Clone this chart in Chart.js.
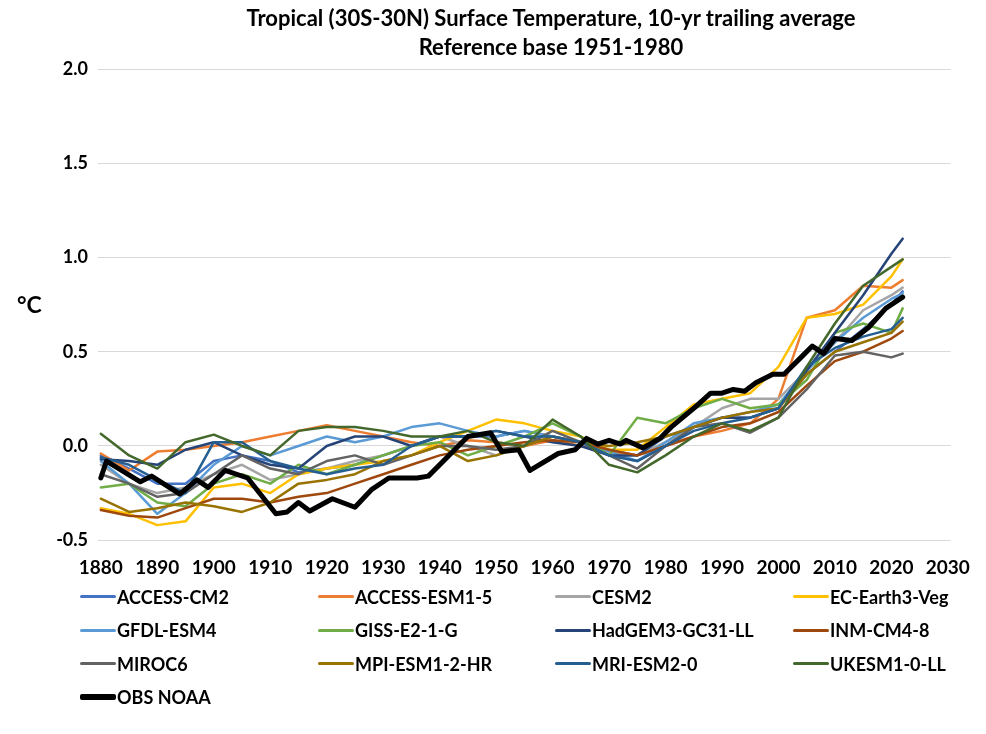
<!DOCTYPE html>
<html>
<head>
<meta charset="utf-8">
<script src="https://cdn.jsdelivr.net/npm/chart.js@4.4.1/dist/chart.umd.min.js"></script>
<style>
    body { margin:0; background:#fff; font-family:Lato, "Open Sans", sans-serif; font-weight:bold; color:#000; }
    #wrap { position:relative; width:986px; height:734px; overflow:hidden; }
    #title { position:absolute; left:116px; top:3px; width:870px; text-align:center; font-size:22px; line-height:29px; }
    #unit { position:absolute; left:17px; top:290px; font-size:23px; }
    #box { position:absolute; left:0; top:0; width:986px; height:601px; }
    #legend { position:absolute; left:80px; top:580px; width:950px; display:grid; grid-template-columns:238px 237px 238px 237px; grid-auto-rows:33.5px; }
    .item { display:flex; align-items:center; font-size:18px; white-space:nowrap; }
    .item span { display:inline-block; width:36px; margin-right:1px; border-radius:2px; }
</style>
</head>
<body>
<div id="wrap">
    <div id="box"><canvas id="tempChart"></canvas></div>
    <div id="title">Tropical (30S-30N) Surface Temperature, 10-yr trailing average<br>Reference base 1951-1980</div>
    <div id="unit">°C</div>
    <div id="legend"></div>
</div>
<script>
// Years for the models (5-yr reading of the curves) and for the observations
const modelYears = [1880,1885,1890,1895,1900,1905,1910,1915,1920,1925,1930,1935,1940,1945,1950,1955,1960,1965,1970,1975,1980,1985,1990,1995,2000,2005,2010,2015,2020,2022];
const obsYears = [1880,1881,1887,1889,1894,1897,1899,1902,1906,1911,1913,1915,1917,1921,1925,1928,1931,1936,1938,1945,1949,1951,1954,1956,1961,1964,1966,1968,1970,1972,1973,1976,1979,1981,1985,1988,1990,1992,1994,1996,1999,2001,2004,2006,2008,2010,2013,2016,2019,2022];

// Model series (°C)
const accessCM2 = [-0.05,-0.12,-0.2,-0.2,-0.08,-0.05,-0.08,-0.14,-0.12,-0.1,-0.05,0.0,0.05,0.05,0.05,0.08,0.05,0.02,-0.05,-0.08,0.0,0.1,0.15,0.15,0.2,0.38,0.5,0.62,0.75,0.82];
const accessESM = [-0.04,-0.13,-0.03,-0.02,0.0,0.02,0.05,0.08,0.11,0.08,0.05,0.02,0.0,0.03,0.02,0.0,0.03,0.0,-0.03,-0.05,0.0,0.05,0.08,0.12,0.25,0.68,0.72,0.85,0.84,0.88];
const cesm2 = [-0.1,-0.2,-0.25,-0.22,-0.15,-0.1,-0.18,-0.15,-0.12,-0.08,-0.05,0.0,0.05,0.0,-0.05,0.0,0.05,0.02,-0.02,-0.05,0.02,0.1,0.2,0.25,0.25,0.4,0.55,0.72,0.8,0.84];
const ecEarth = [-0.33,-0.36,-0.42,-0.4,-0.22,-0.2,-0.25,-0.15,-0.12,-0.1,-0.08,-0.05,0.02,0.08,0.14,0.12,0.08,0.05,-0.02,-0.02,0.1,0.22,0.25,0.28,0.42,0.68,0.7,0.75,0.9,0.99];
const gfdl = [-0.08,-0.2,-0.36,-0.25,-0.1,0.0,-0.05,0.0,0.05,0.02,0.05,0.1,0.12,0.08,0.05,0.08,0.05,0.02,-0.03,-0.08,0.02,0.12,0.15,0.18,0.22,0.4,0.55,0.68,0.78,0.81];
const giss = [-0.22,-0.2,-0.3,-0.32,-0.2,-0.15,-0.2,-0.1,-0.15,-0.1,-0.05,0.0,0.02,-0.05,0.0,0.05,0.12,0.05,-0.05,0.15,0.12,0.2,0.25,0.2,0.22,0.35,0.6,0.65,0.6,0.73];
const hadgem = [-0.07,-0.08,-0.1,-0.02,0.02,-0.05,-0.1,-0.12,0.0,0.05,0.05,0.0,0.05,0.05,0.08,0.05,0.02,0.0,-0.05,-0.05,0.05,0.1,0.15,0.15,0.2,0.4,0.6,0.8,1.02,1.1];
const inm = [-0.34,-0.37,-0.38,-0.33,-0.28,-0.28,-0.3,-0.27,-0.25,-0.2,-0.15,-0.1,-0.05,-0.02,0.0,0.02,0.03,0.02,-0.02,-0.05,0.0,0.05,0.1,0.12,0.18,0.32,0.45,0.5,0.57,0.61];
const miroc = [-0.15,-0.2,-0.27,-0.25,-0.15,-0.05,-0.12,-0.15,-0.08,-0.05,-0.1,-0.05,0.0,0.0,-0.02,0.0,0.08,0.02,-0.05,-0.12,0.0,0.1,0.12,0.07,0.15,0.3,0.48,0.5,0.47,0.49];
const mpi = [-0.28,-0.35,-0.33,-0.3,-0.32,-0.35,-0.3,-0.2,-0.18,-0.15,-0.08,-0.05,0.0,-0.08,-0.05,0.0,0.05,0.02,0.0,0.02,0.05,0.1,0.15,0.18,0.2,0.38,0.5,0.55,0.6,0.66];
const mri = [-0.06,-0.1,-0.18,-0.25,0.02,0.02,-0.08,-0.12,-0.15,-0.12,-0.1,0.0,0.05,0.05,0.08,0.05,0.05,0.02,-0.05,-0.08,0.0,0.08,0.12,0.15,0.2,0.42,0.52,0.58,0.62,0.68];
const ukesm = [0.065,-0.05,-0.12,0.02,0.06,0.0,-0.05,0.08,0.1,0.1,0.08,0.05,0.05,0.08,0.02,0.0,0.14,0.05,-0.1,-0.14,-0.05,0.05,0.12,0.08,0.15,0.42,0.65,0.85,0.95,0.99];

// Observations (°C)
const obsNOAA = [-0.17,-0.08,-0.19,-0.16,-0.255,-0.18,-0.22,-0.13,-0.17,-0.36,-0.35,-0.30,-0.345,-0.28,-0.325,-0.23,-0.17,-0.17,-0.16,0.05,0.07,-0.03,-0.02,-0.13,-0.04,-0.02,0.04,0.01,0.03,0.01,0.03,-0.01,0.04,0.1,0.2,0.28,0.28,0.30,0.29,0.335,0.38,0.38,0.47,0.53,0.49,0.57,0.56,0.63,0.73,0.79];

// Axis ticks
const xTicks = [1880,1890,1900,1910,1920,1930,1940,1950,1960,1970,1980,1990,2000,2010,2020,2030];
const yTicks = [-0.5,0.0,0.5,1.0,1.5,2.0];

const series = [
    { label:'ACCESS-CM2', values:accessCM2, color:'#4472C4' },
    { label:'ACCESS-ESM1-5', values:accessESM, color:'#ED7D31' },
    { label:'CESM2', values:cesm2, color:'#A5A5A5' },
    { label:'EC-Earth3-Veg', values:ecEarth, color:'#FFC000' },
    { label:'GFDL-ESM4', values:gfdl, color:'#5B9BD5' },
    { label:'GISS-E2-1-G', values:giss, color:'#70AD47' },
    { label:'HadGEM3-GC31-LL', values:hadgem, color:'#264478' },
    { label:'INM-CM4-8', values:inm, color:'#9E480E' },
    { label:'MIROC6', values:miroc, color:'#636363' },
    { label:'MPI-ESM1-2-HR', values:mpi, color:'#997300' },
    { label:'MRI-ESM2-0', values:mri, color:'#255E91' },
    { label:'UKESM1-0-LL', values:ukesm, color:'#43682B' },
    { label:'OBS NOAA', values:obsNOAA, color:'#000000', years:obsYears, width:5 }
];

const datasets = series.map(function(s, i) {
    const yrs = s.years || modelYears;
    return {
        label: s.label,
        data: yrs.map(function(y, j) { return { x:y, y:s.values[j] }; }),
        borderColor: s.color,
        backgroundColor: s.color,
        borderWidth: s.width || 2.5,
        pointRadius: 0,
        tension: 0,
        borderJoinStyle: 'round',
        borderCapStyle: 'round',
        order: series.length - i
    };
});

const font = 'Lato, "Open Sans", sans-serif';

const ctx = document.getElementById('tempChart').getContext('2d');
const tempChart = new Chart(ctx, {
    type: 'line',
    data: { datasets: datasets },
    options: {
        responsive: true,
        maintainAspectRatio: false,
        animation: false,
        layout: { padding: { top:69, left:50, right:34, bottom:6 } },
        plugins: {
            legend: { display:false },
            title: { display:false },
            tooltip: { enabled:false }
        },
        scales: {
            x: {
                type: 'linear',
                min: 1879.5,
                max: 2030.5,
                afterBuildTicks: function(scale) { scale.ticks = xTicks.map(function(v) { return { value:v }; }); },
                grid: { display:false, drawTicks:false },
                border: { display:false },
                ticks: {
                    color: '#000',
                    padding: 16,
                    maxRotation: 0,
                    autoSkip: false,
                    font: { family:font, size:19, weight:'bold' },
                    callback: function(value) { return String(value); }
                }
            },
            y: {
                min: -0.5,
                max: 2.0,
                afterBuildTicks: function(scale) { scale.ticks = yTicks.map(function(v) { return { value:v }; }); },
                afterFit: function(scale) { scale.width = 48; },
                grid: { color:'#d9d9d9', lineWidth:1, drawTicks:false },
                border: { display:false },
                ticks: {
                    color: '#000',
                    padding: 10,
                    font: { family:font, size:18, weight:'bold' },
                    callback: function(value) { return value.toFixed(1); }
                }
            }
        }
    }
});

// Legend
const legend = document.getElementById('legend');
series.forEach(function(s) {
    const item = document.createElement('div');
    item.className = 'item';
    const mark = document.createElement('span');
    mark.style.height = (s.width ? 6 : 3) + 'px';
    mark.style.background = s.color;
    item.appendChild(mark);
    item.appendChild(document.createTextNode(s.label));
    legend.appendChild(item);
});
</script>
</body>
</html>
